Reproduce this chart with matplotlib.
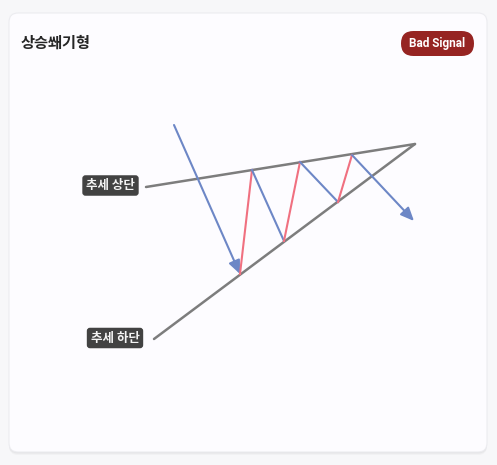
import matplotlib
matplotlib.use("Agg")
import matplotlib.pyplot as plt
from matplotlib.patches import FancyBboxPatch

plt.rcParams['font.family'] = ['Noto Sans CJK KR', 'DejaVu Sans']

# pattern geometry (pixel coords, y down)
upper_x = [146, 415]
upper_y = [187, 144]
lower_x = [154, 415]
lower_y = [339, 144]

# price swings
swing_x0 = [174, 240, 252, 284, 300, 338, 352]
swing_y0 = [125, 274, 170, 241, 162, 202, 155]
swing_x1 = [240, 252, 284, 300, 338, 352, 414]
swing_y1 = [274, 170, 241, 162, 202, 155, 221]
swing_kind = ['arrow', 'up', 'down', 'up', 'down', 'up', 'arrow']

title = "상승쐐기형"
badge = "Bad Signal"
label_upper = "추세 상단"
label_lower = "추세 하단"

W, H = 497, 465
fig = plt.figure(figsize=(W / 100, H / 100), dpi=100)
fig.patch.set_facecolor('#f7f7f9')
ax = fig.add_axes([0, 0, 1, 1])
ax.set_xlim(0, W)
ax.set_ylim(H, 0)
ax.axis('off')

# card with soft shadow
for off, a in [(3, 0.05), (2, 0.06), (1, 0.08)]:
    ax.add_patch(FancyBboxPatch((9, 13 + off), 478, 439, boxstyle="round,pad=0,rounding_size=9",
                                fc='#888888', ec='none', alpha=a, zorder=1))
ax.add_patch(FancyBboxPatch((9, 13), 478, 439, boxstyle="round,pad=0,rounding_size=9",
                            fc='#fdfcff', ec='#ececf0', lw=0.8, zorder=2))

ax.text(21, 43, title, fontsize=11, fontweight='bold', color='#262626',
        ha='left', va='center', zorder=5)

ax.add_patch(FancyBboxPatch((401, 31), 73, 25, boxstyle="round,pad=0,rounding_size=12.5",
                            fc='#962422', ec='none', zorder=4))
ax.text(437.5, 43.5, badge, fontsize=8.5, fontweight='bold', color='white',
        ha='center', va='center', zorder=5, family=['Roboto', 'DejaVu Sans'])

# trend lines
ax.plot(upper_x, upper_y, color='#7d7d7d', lw=1.8, solid_capstyle='round', zorder=3)
ax.plot(lower_x, lower_y, color='#7d7d7d', lw=1.8, solid_capstyle='round', zorder=3)

blue = '#6d87c6'
red = '#f07080'
for x0, y0, x1, y1, k in zip(swing_x0, swing_y0, swing_x1, swing_y1, swing_kind):
    if k == 'arrow':
        ax.annotate('', xy=(x1, y1), xytext=(x0, y0),
                    arrowprops=dict(arrowstyle='-|>,head_length=0.8,head_width=0.35',
                                    color=blue, lw=1.5, shrinkA=0, shrinkB=0), zorder=4)
    else:
        ax.plot([x0, x1], [y0, y1], color=red if k == 'up' else blue, lw=1.5, zorder=4)

box = dict(boxstyle='round,pad=0.3,rounding_size=0.25', fc='#424242', ec='none')
ax.text(110.5, 185.5, label_upper, fontsize=9, fontweight='bold', color='#f4f4f4',
        ha='center', va='center', bbox=box, zorder=5)
ax.text(115, 338, label_lower, fontsize=9, fontweight='bold', color='#f4f4f4',
        ha='center', va='center', bbox=box, zorder=5)

fig.savefig('out.png', dpi=100, facecolor=fig.get_facecolor())
